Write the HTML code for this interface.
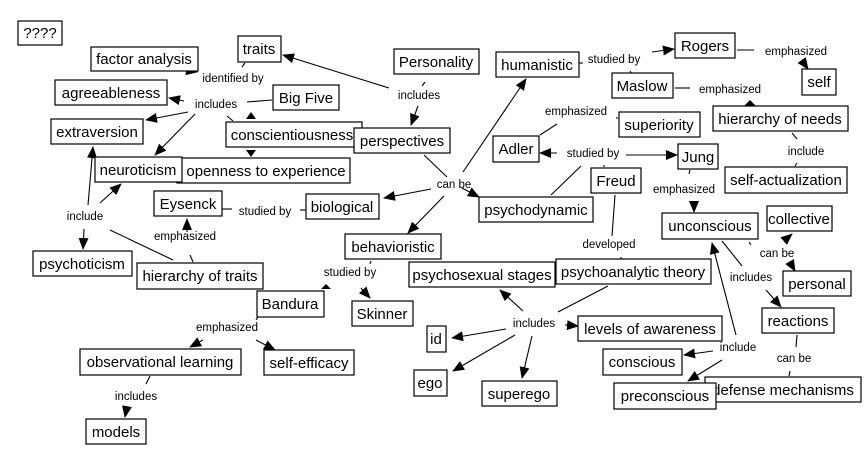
<!DOCTYPE html>
<html><head><meta charset="utf-8"><style>
html,body{margin:0;padding:0;background:#fff;}
svg{display:block;}
.b{fill:#fff;stroke:#000;stroke-width:1.2;}
.t{font-family:"Liberation Sans",Arial,sans-serif;font-size:15px;text-anchor:middle;fill:#000;}
.l{font-family:"Liberation Sans",Arial,sans-serif;font-size:11.5px;text-anchor:middle;fill:#000;}
line{stroke:#000;stroke-width:1.1;}
</style></head><body>
<svg width="868" height="464" viewBox="0 0 868 464" xmlns="http://www.w3.org/2000/svg">
<defs><marker id="a" markerWidth="12" markerHeight="10" refX="11" refY="5" orient="auto" markerUnits="userSpaceOnUse"><path d="M0,0 L12,5 L0,10 z" fill="#000"/></marker></defs>
<g>
<!-- connectors -->
<line x1="389" y1="88" x2="283" y2="55" marker-end="url(#a)"/>
<line x1="425" y1="82" x2="422" y2="86"/>
<line x1="418" y1="106" x2="411" y2="125" marker-end="url(#a)"/>
<line x1="185" y1="70" x2="197" y2="72" marker-end="url(#a)"/>
<line x1="245" y1="63" x2="242" y2="67"/>
<line x1="272" y1="100" x2="247" y2="102"/>
<line x1="184" y1="101" x2="169" y2="98" marker-end="url(#a)"/>
<line x1="188" y1="112" x2="146" y2="120" marker-end="url(#a)"/>
<line x1="195" y1="114" x2="155" y2="155" marker-end="url(#a)"/>
<line x1="227" y1="116" x2="233" y2="121"/>
<path d="M246,119 L251,112 L256,119 z" fill="#000"/>
<path d="M246,150 L251,157 L256,150 z" fill="#000"/>
<line x1="173" y1="260" x2="110" y2="230"/>
<line x1="193" y1="262" x2="190" y2="255"/>
<line x1="187" y1="232" x2="187" y2="219" marker-end="url(#a)"/>
<line x1="88" y1="205" x2="93" y2="147" marker-end="url(#a)"/>
<line x1="100" y1="203" x2="121" y2="184" marker-end="url(#a)"/>
<line x1="84" y1="229" x2="83" y2="249" marker-end="url(#a)"/>
<line x1="222" y1="209" x2="232" y2="209"/>
<line x1="300" y1="210" x2="306" y2="210"/>
<line x1="424" y1="155" x2="447" y2="177"/>
<line x1="431" y1="189" x2="384" y2="198" marker-end="url(#a)"/>
<line x1="462" y1="188" x2="479" y2="197" marker-end="url(#a)"/>
<line x1="463" y1="172" x2="526" y2="79" marker-end="url(#a)"/>
<line x1="444" y1="196" x2="408" y2="233" marker-end="url(#a)"/>
<line x1="579" y1="63" x2="583" y2="63"/>
<line x1="652" y1="52" x2="674" y2="49" marker-end="url(#a)"/>
<line x1="630" y1="71" x2="632" y2="74"/>
<line x1="737" y1="50" x2="754" y2="50"/>
<line x1="803" y1="62" x2="808" y2="69" marker-end="url(#a)"/>
<line x1="675" y1="88" x2="690" y2="88"/>
<path d="M744,106 L750,100 L756,106 z" fill="#000"/>
<line x1="792" y1="133" x2="797" y2="139"/>
<line x1="797" y1="163" x2="795" y2="166"/>
<line x1="540" y1="135" x2="557" y2="124"/>
<line x1="616" y1="118" x2="618" y2="118"/>
<line x1="551" y1="195" x2="581" y2="166"/>
<line x1="557" y1="153" x2="540" y2="153" marker-end="url(#a)"/>
<line x1="626" y1="155" x2="677" y2="155" marker-end="url(#a)"/>
<line x1="604" y1="165" x2="604" y2="167"/>
<line x1="690" y1="170" x2="689" y2="174"/>
<line x1="694" y1="203" x2="694" y2="212" marker-end="url(#a)"/>
<line x1="615" y1="195" x2="612" y2="236"/>
<line x1="621" y1="257" x2="621" y2="260"/>
<line x1="749" y1="242" x2="751" y2="245"/>
<line x1="785" y1="240" x2="792" y2="234" marker-end="url(#a)"/>
<line x1="791" y1="264" x2="795" y2="271" marker-end="url(#a)"/>
<line x1="722" y1="241" x2="742" y2="266"/>
<line x1="766" y1="290" x2="781" y2="307" marker-end="url(#a)"/>
<line x1="736" y1="335" x2="712" y2="243" marker-end="url(#a)"/>
<line x1="713" y1="351" x2="684" y2="355" marker-end="url(#a)"/>
<line x1="722" y1="360" x2="688" y2="381" marker-end="url(#a)"/>
<line x1="797" y1="335" x2="796" y2="347"/>
<line x1="790" y1="371" x2="789" y2="376"/>
<line x1="608" y1="286" x2="558" y2="312"/>
<line x1="523" y1="311" x2="500" y2="290" marker-end="url(#a)"/>
<line x1="565" y1="325" x2="578" y2="326" marker-end="url(#a)"/>
<line x1="506" y1="329" x2="452" y2="338" marker-end="url(#a)"/>
<line x1="515" y1="335" x2="453" y2="371" marker-end="url(#a)"/>
<line x1="532" y1="336" x2="522" y2="378" marker-end="url(#a)"/>
<line x1="371" y1="261" x2="370" y2="264"/>
<path d="M321,289 L326,284 L331,289 z" fill="#000"/>
<line x1="361" y1="288" x2="370" y2="298" marker-end="url(#a)"/>
<line x1="258" y1="317" x2="256" y2="320"/>
<line x1="203" y1="340" x2="190" y2="347" marker-end="url(#a)"/>
<line x1="256" y1="340" x2="275" y2="350" marker-end="url(#a)"/>
<line x1="150" y1="376" x2="146" y2="384"/>
<line x1="127" y1="406" x2="125" y2="417" marker-end="url(#a)"/>
</g>
<g>
<rect class="b" x="18" y="21" width="44" height="24"/><text class="t" x="40" y="38">????</text>
<rect class="b" x="91" y="47" width="107" height="24"/><text class="t" x="144" y="64">factor analysis</text>
<rect class="b" x="238" y="36" width="43" height="26"/><text class="t" x="259" y="54">traits</text>
<rect class="b" x="394" y="49" width="85" height="25"/><text class="t" x="436" y="67">Personality</text>
<rect class="b" x="496" y="52" width="83" height="25"/><text class="t" x="537" y="70">humanistic</text>
<rect class="b" x="675" y="33" width="60" height="25"/><text class="t" x="705" y="51">Rogers</text>
<rect class="b" x="802" y="69" width="34" height="26"/><text class="t" x="819" y="87">self</text>
<rect class="b" x="612" y="73" width="61" height="25"/><text class="t" x="642" y="91">Maslow</text>
<rect class="b" x="55" y="80" width="112" height="25"/><text class="t" x="111" y="98">agreeableness</text>
<rect class="b" x="273" y="85" width="66" height="25"/><text class="t" x="306" y="103">Big Five</text>
<rect class="b" x="619" y="112" width="81" height="25"/><text class="t" x="659" y="130">superiority</text>
<rect class="b" x="713" y="106" width="135" height="25"/><text class="t" x="780" y="124">hierarchy of needs</text>
<rect class="b" x="51" y="119" width="92" height="25"/><text class="t" x="97" y="137">extraversion</text>
<rect class="b" x="226" y="122" width="136" height="25"/><text class="t" x="292" y="140">conscientiousness</text>
<rect class="b" x="354" y="128" width="96" height="25"/><text class="t" x="402" y="146">perspectives</text>
<rect class="b" x="493" y="136" width="46" height="26"/><text class="t" x="516" y="154">Adler</text>
<rect class="b" x="678" y="144" width="40" height="25"/><text class="t" x="698" y="162">Jung</text>
<rect class="b" x="177" y="158" width="173" height="25"/><text class="t" x="266" y="176">openness to experience</text>
<rect class="b" x="95" y="157" width="87" height="25"/><text class="t" x="138" y="175">neuroticism</text>
<rect class="b" x="725" y="167" width="122" height="26"/><text class="t" x="786" y="185">self-actualization</text>
<rect class="b" x="591" y="168" width="50" height="25"/><text class="t" x="616" y="186">Freud</text>
<rect class="b" x="154" y="191" width="68" height="25"/><text class="t" x="188" y="209">Eysenck</text>
<rect class="b" x="306" y="194" width="73" height="25"/><text class="t" x="342" y="212">biological</text>
<rect class="b" x="479" y="197" width="114" height="25"/><text class="t" x="536" y="215">psychodynamic</text>
<rect class="b" x="767" y="206" width="65" height="25"/><text class="t" x="799" y="224">collective</text>
<rect class="b" x="662" y="213" width="96" height="26"/><text class="t" x="710" y="231">unconscious</text>
<rect class="b" x="345" y="234" width="96" height="25"/><text class="t" x="393" y="252">behavioristic</text>
<rect class="b" x="33" y="251" width="99" height="25"/><text class="t" x="82" y="269">psychoticism</text>
<rect class="b" x="137" y="263" width="126" height="26"/><text class="t" x="200" y="281">hierarchy of traits</text>
<rect class="b" x="409" y="262" width="146" height="25"/><text class="t" x="482" y="280">psychosexual stages</text>
<rect class="b" x="556" y="259" width="155" height="25"/><text class="t" x="633" y="277">psychoanalytic theory</text>
<rect class="b" x="783" y="271" width="68" height="25"/><text class="t" x="817" y="289">personal</text>
<rect class="b" x="257" y="291" width="67" height="26"/><text class="t" x="290" y="309">Bandura</text>
<rect class="b" x="352" y="301" width="61" height="25"/><text class="t" x="382" y="319">Skinner</text>
<rect class="b" x="762" y="308" width="72" height="25"/><text class="t" x="798" y="326">reactions</text>
<rect class="b" x="578" y="316" width="144" height="25"/><text class="t" x="650" y="334">levels of awareness</text>
<rect class="b" x="427" y="326" width="19" height="26"/><text class="t" x="436" y="344">id</text>
<rect class="b" x="603" y="349" width="79" height="26"/><text class="t" x="642" y="367">conscious</text>
<rect class="b" x="80" y="349" width="161" height="26"/><text class="t" x="160" y="367">observational learning</text>
<rect class="b" x="264" y="350" width="90" height="25"/><text class="t" x="309" y="368">self-efficacy</text>
<rect class="b" x="414" y="370" width="33" height="26"/><text class="t" x="430" y="388">ego</text>
<rect class="b" x="705" y="377" width="156" height="25"/><text class="t" x="783" y="395">defense mechanisms</text>
<rect class="b" x="482" y="381" width="75" height="25"/><text class="t" x="519" y="399">superego</text>
<rect class="b" x="614" y="383" width="102" height="26"/><text class="t" x="665" y="401">preconscious</text>
<rect class="b" x="86" y="419" width="60" height="25"/><text class="t" x="116" y="437">models</text>
</g>
<g>
<text class="l" x="233" y="82">identified by</text>
<text class="l" x="216" y="108">includes</text>
<text class="l" x="419" y="99">includes</text>
<text class="l" x="454" y="188">can be</text>
<text class="l" x="265" y="215">studied by</text>
<text class="l" x="185" y="240">emphasized</text>
<text class="l" x="85" y="220">include</text>
<text class="l" x="614" y="63">studied by</text>
<text class="l" x="796" y="55">emphasized</text>
<text class="l" x="730" y="93">emphasized</text>
<text class="l" x="576" y="115">emphasized</text>
<text class="l" x="593" y="157">studied by</text>
<text class="l" x="806" y="155">include</text>
<text class="l" x="684" y="193">emphasized</text>
<text class="l" x="609" y="248">developed</text>
<text class="l" x="777" y="257">can be</text>
<text class="l" x="751" y="281">includes</text>
<text class="l" x="350" y="276">studied by</text>
<text class="l" x="227" y="331">emphasized</text>
<text class="l" x="136" y="400">includes</text>
<text class="l" x="534" y="327">includes</text>
<text class="l" x="738" y="351">include</text>
<text class="l" x="794" y="362">can be</text>
</g>
</svg>
</body></html>
